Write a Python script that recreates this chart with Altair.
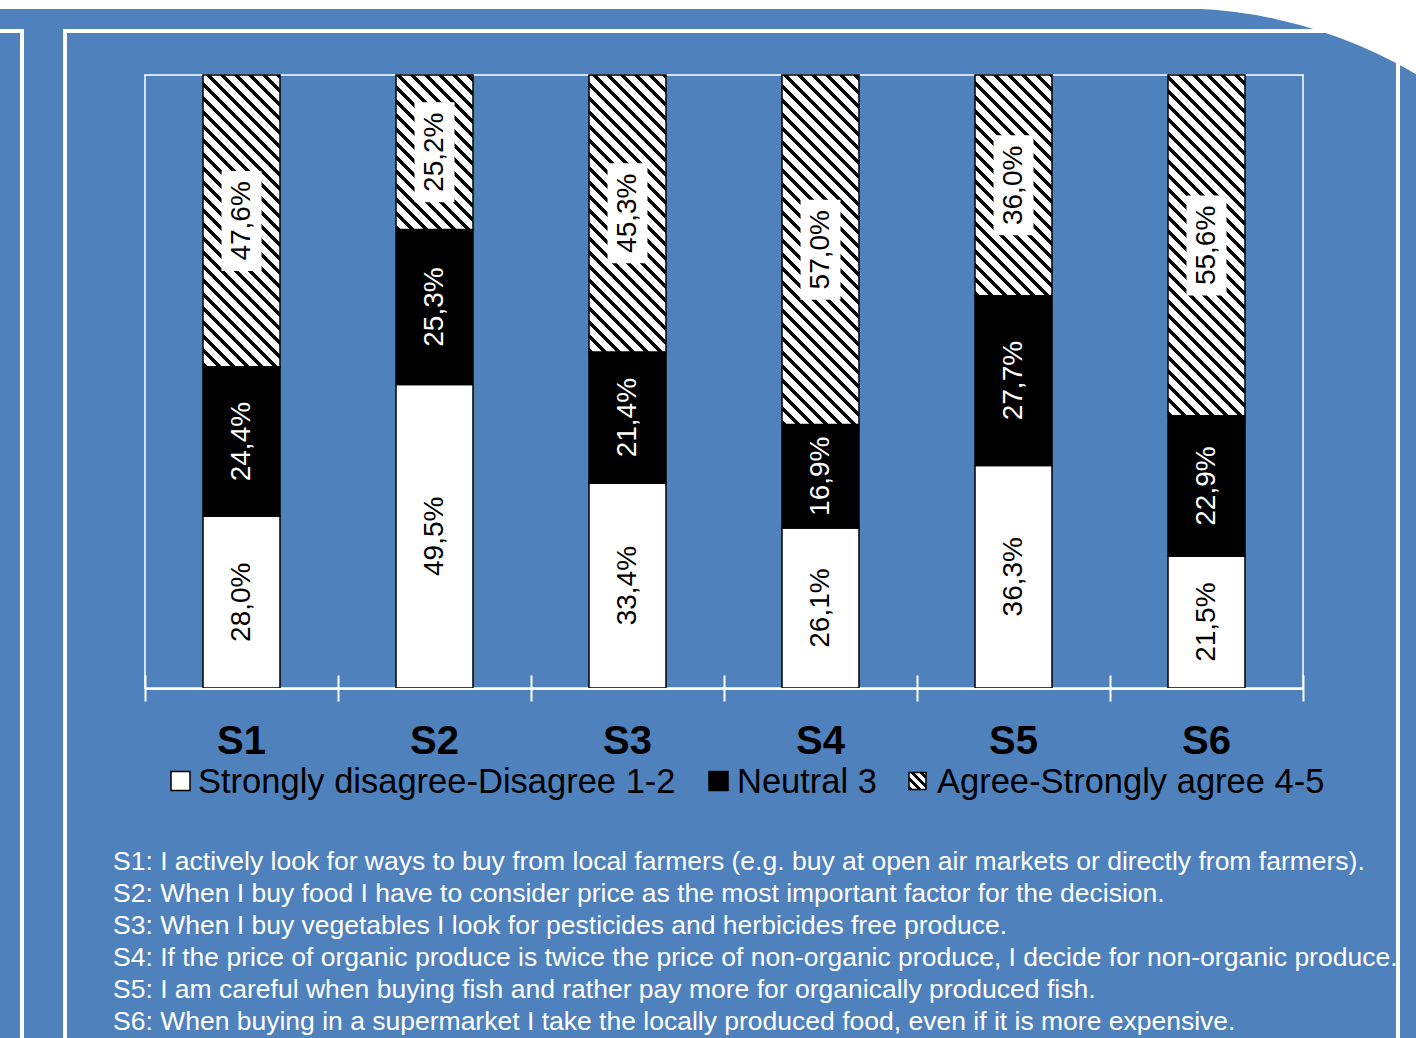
import math
import altair as alt
import pandas as pd

# ---------------- data ----------------
categories = ["S1", "S2", "S3", "S4", "S5", "S6"]
disagree = [28.0, 49.5, 33.4, 26.1, 36.3, 21.5]
neutral = [24.4, 25.3, 21.4, 16.9, 27.7, 22.9]
agree = [47.6, 25.2, 45.3, 57.0, 36.0, 55.6]
series_names = ["Strongly disagree-Disagree 1-2", "Neutral 3", "Agree-Strongly agree 4-5"]
footnotes = [
    "S1: I actively look for ways to buy from local farmers (e.g. buy at open air markets or directly from farmers).",
    "S2: When I buy food I have to consider price as the most important factor for the decision.",
    "S3: When I buy vegetables I look for pesticides and herbicides free produce.",
    "S4: If the price of organic produce is twice the price of non-organic produce, I decide for non-organic produce.",
    "S5: I am careful when buying fish and rather pay more for organically produced fish.",
    "S6: When buying in a supermarket I take the locally produced food, even if it is more expensive.",
]

# ---------------- layout / style ----------------
PLOT_W, PLOT_H = 1158, 613
LEFT, TOP = 145, 75
BAR_W = 77
BG = "#4F81BD"
FONT = "Liberation Sans"


def fmt(v):
    return f"{v:.1f}".replace(".", ",") + "%"


rows = []
for i, c in enumerate(categories):
    start = 0.0
    for s, vals in enumerate([disagree, neutral, agree]):
        v = vals[i]
        rows.append(dict(cat=c, series=series_names[s], sidx=s, value=v,
                         start=start, end=start + v, mid=start + v / 2,
                         label=fmt(v), tcol="white" if s == 1 else "black"))
        start += v
df = pd.DataFrame(rows)
one = pd.DataFrame({"k": [0]})


def hatch(h, w, period, band):
    """Linear gradient with hard stops that draws 45 degree '\\' stripes."""
    r = h / w
    s = (1 + r) / (1 + r * r)
    L = w + h
    stops = []
    pos = 0.0
    while pos < L:
        a = pos / L
        b = min(pos + band, L) / L
        c = min(pos + period, L) / L
        stops += [{"offset": a, "color": "black"}, {"offset": b, "color": "black"},
                  {"offset": b, "color": "white"}, {"offset": c, "color": "white"}]
        pos += period
    return {"gradient": "linear", "x1": 0, "y1": 1, "x2": s, "y2": 1 - s * r, "stops": stops}


X = alt.X("cat:N", sort=categories,
          scale=alt.Scale(domain=categories, paddingInner=0, paddingOuter=0),
          axis=alt.Axis(title=None, labels=False, domain=False, grid=False, ticks=True,
                        tickBand="extent", tickSize=26, tickWidth=2, tickColor="white",
                        offset=-13))
yscale = alt.Scale(domain=[0, 100], nice=False, zero=True, clamp=True)
Y = alt.Y("start:Q", scale=yscale, axis=None)
Ymid = alt.Y("mid:Q", scale=yscale, axis=None)


def wrect(x0, y0, x1, y1):
    return alt.Chart(one).mark_rect(color="white").encode(
        x=alt.value(x0 - LEFT), x2=alt.value(x1 - LEFT),
        y=alt.value(y0 - TOP), y2=alt.value(y1 - TOP))


def warc(cx, cy, r1, r2, t1, t2):
    return alt.Chart(one).mark_arc(color="white").encode(
        x=alt.value(cx - LEFT), y=alt.value(cy - TOP),
        theta=alt.value(t1), theta2=alt.value(t2),
        radius=alt.value(r1), radius2=alt.value(r2))


TWO_PI = 2 * math.pi
deco = [
    wrect(0, 0, 1416, 9),
    wrect(0, 29, 24, 33),
    wrect(20, 29, 24, 1038),
    wrect(63, 29, 1331, 33),
    wrect(63, 29, 67, 1038),
    wrect(1396, 62, 1400, 1038),
    warc(1176, 477.3, 469, 1400, TWO_PI - 0.055, TWO_PI + 1.4),
    warc(1330, 120.6, 87.6, 400, 0.0, 0.85),
]

white_bars = alt.Chart(df).transform_filter(alt.datum.sidx == 0).mark_bar(
    size=BAR_W, fill="white", stroke="black", strokeWidth=1.5).encode(x=X, y=Y, y2="end:Q")
black_bars = alt.Chart(df).transform_filter(alt.datum.sidx == 1).mark_bar(
    size=BAR_W, fill="black", stroke="black", strokeWidth=1.5).encode(x=X, y=Y, y2="end:Q")

hatch_layers = []
for i, c in enumerate(categories):
    h = agree[i] / 100 * PLOT_H
    hatch_layers.append(
        alt.Chart(df).transform_filter((alt.datum.cat == c) & (alt.datum.sidx == 2)).mark_bar(
            size=BAR_W, fill=hatch(h, BAR_W, 14, 5), stroke="black", strokeWidth=1.5
        ).encode(x=X, y=Y, y2="end:Q"))

base_line = wrect(LEFT, 688, LEFT + PLOT_W, 690)

boxes = alt.Chart(df).transform_filter(alt.datum.sidx == 2).mark_point(
    shape="M-0.4,-1L0.4,-1L0.4,1L-0.4,1Z", size=10000, filled=True, fill="white",
    opacity=1, strokeWidth=0).encode(x=X, y=Ymid)

labels = alt.Chart(df).mark_text(angle=270, fontSize=28, font=FONT, align="center",
                                 baseline="middle").encode(
    x=X, y=Ymid, text="label:N", color=alt.Color("tcol:N", scale=None))

cat_labels = alt.Chart(pd.DataFrame({"cat": categories})).mark_text(
    fontSize=40, fontWeight="bold", font=FONT, baseline="alphabetic", color="black"
).encode(x=X, y=alt.value(754 - TOP), text="cat:N")

# legend (manual)
legend_sym_x = [180.5, 718.5, 917.5]
legend_text_x = [198, 737, 937]
legend_y = 781
legend_base = 793
legend = [
    alt.Chart(one).mark_square(size=361, filled=True, fill="white", stroke="black",
                               strokeWidth=1.5, opacity=1).encode(
        x=alt.value(legend_sym_x[0] - LEFT), y=alt.value(legend_y - TOP)),
    alt.Chart(one).mark_square(size=361, filled=True, fill="black", stroke="black",
                               strokeWidth=1.5, opacity=1).encode(
        x=alt.value(legend_sym_x[1] - LEFT), y=alt.value(legend_y - TOP)),
    alt.Chart(one).mark_square(size=289, filled=True, fill=hatch(17, 17, 9, 4), stroke="black",
                               strokeWidth=1.5, opacity=1).encode(
        x=alt.value(legend_sym_x[2] - LEFT), y=alt.value(legend_y - TOP)),
]
for i, name in enumerate(series_names):
    legend.append(alt.Chart(pd.DataFrame({"t": [name]})).mark_text(
        align="left", baseline="alphabetic", fontSize=34.5, font=FONT, color="black"
    ).encode(x=alt.value(legend_text_x[i] - LEFT), y=alt.value(legend_base - TOP), text="t:N"))

notes = []
for i, line in enumerate(footnotes):
    notes.append(alt.Chart(pd.DataFrame({"t": [line]})).mark_text(
        align="left", baseline="alphabetic", fontSize=26.5, font=FONT, color="white"
    ).encode(x=alt.value(113 - LEFT), y=alt.value(870 + 32 * i - TOP), text="t:N"))

chart = alt.layer(
    *deco, white_bars, black_bars, *hatch_layers, base_line, boxes, labels, cat_labels,
    *legend, *notes
).properties(
    width=PLOT_W, height=PLOT_H,
    padding={"left": LEFT, "top": TOP, "right": 1416 - LEFT - PLOT_W, "bottom": 1038 - TOP - PLOT_H},
    autosize=alt.AutoSizeParams(type="none"),
    background=BG,
).configure_view(stroke="white", strokeWidth=1.5)

chart.save("out.html", embed_options={"renderer": "svg", "actions": False})
